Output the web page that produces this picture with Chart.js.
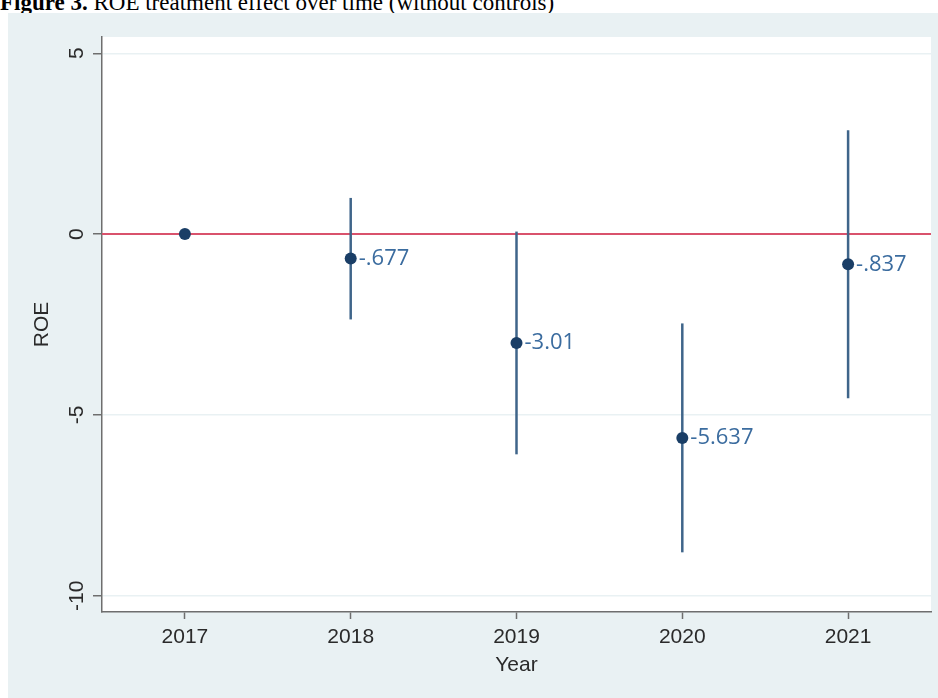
<!DOCTYPE html>
<html>
<head>
<meta charset="utf-8">
<script src="https://cdn.jsdelivr.net/npm/chart.js@4.4.1/dist/chart.umd.min.js"></script>
<style>
  html, body { margin: 0; padding: 0; background: #fff; }
  #wrap { position: relative; width: 938px; height: 698px; overflow: hidden; }
  #caption {
    position: absolute; left: 0; top: -9px; z-index: 0;
    font: 23px/23px "Liberation Serif", "Times New Roman", serif;
    color: #000; white-space: nowrap;
  }
  #roe-chart { position: absolute; left: 0; top: 0; z-index: 1; }
</style>
</head>
<body>
<div id="wrap">
  <div id="caption"><b>Figure 3.</b> ROE treatment effect over time (without controls)</div>
  <canvas id="roe-chart" width="938" height="698"></canvas>
</div>
<script>
// event-study coefficients (2017 = base year)
const years = [2017, 2018, 2019, 2020, 2021];
const coefs = [0, -0.677, -3.01, -5.637, -0.837];
const coefLabels = ['', '-.677', '-3.01', '-5.637', '-.837'];

// confidence intervals
const ciYears = [2018, 2019, 2020, 2021];
const ciLow = [-2.36, -6.09, -8.80, -4.54];
const ciHigh = [1.00, 0.07, -2.47, 2.87];

const yTicks = [-10, -5, 0, 5];
const xRange = [2016.5, 2021.5];
const yRange = [-10.45, 5.45];

const BG = '#e9f1f3';
const AXIS = '#6e6e6e';
const TEXT = '#2a2a2a';
const TICK_FONT = { family: '"Liberation Sans", Arial, sans-serif', size: 21 };

// stata-like background: blue-gray graph region, white plot region
const backgroundPlugin = {
    id: 'stataBackground',
    beforeDraw(chart) {
        const { ctx, chartArea: a } = chart;
        ctx.save();
        ctx.fillStyle = BG;
        ctx.fillRect(8, 13, chart.width - 8, chart.height - 13);
        ctx.fillStyle = '#fff';
        ctx.fillRect(a.left, a.top, a.right - a.left, a.bottom - a.top);
        ctx.restore();
    }
};

// vertical y tick labels (Chart.js does not rotate them on a vertical scale)
const yLabelPlugin = {
    id: 'yTickLabels',
    afterDraw(chart) {
        const { ctx } = chart;
        const y = chart.scales.y;
        ctx.save();
        ctx.fillStyle = TEXT;
        ctx.font = `${TICK_FONT.size}px ${TICK_FONT.family}`;
        ctx.textAlign = 'center';
        ctx.textBaseline = 'middle';
        y.ticks.forEach(t => {
            ctx.save();
            ctx.translate(77, y.getPixelForValue(t.value));
            ctx.rotate(-Math.PI / 2);
            ctx.fillText(String(t.value), 0, 0);
            ctx.restore();
        });
        ctx.restore();
    }
};

// coefficient text to the right of each marker
const pointLabelPlugin = {
    id: 'coefLabels',
    afterDatasetsDraw(chart) {
        const { ctx } = chart;
        const meta = chart.getDatasetMeta(0);
        ctx.save();
        ctx.fillStyle = '#3b6c9f';
        ctx.font = '22px "Open Sans", "Noto Sans", sans-serif';
        ctx.textAlign = 'left';
        ctx.textBaseline = 'middle';
        meta.data.forEach((pt, i) => {
            if (coefLabels[i]) ctx.fillText(coefLabels[i], pt.x + 8, pt.y);
        });
        ctx.restore();
    }
};

const datasets = [
    {
        type: 'scatter',
        data: years.map((yr, i) => ({ x: yr, y: coefs[i] })),
        backgroundColor: '#1a3e66',
        borderWidth: 0,
        pointRadius: 6
    }
];

ciYears.forEach((yr, i) => {
    datasets.push({
        type: 'line',
        data: [{ x: yr, y: ciLow[i] }, { x: yr, y: ciHigh[i] }],
        borderColor: '#3f658a',
        borderWidth: 2.5,
        pointRadius: 0
    });
});

// reference line at zero
datasets.push({
    type: 'line',
    data: [{ x: xRange[0], y: 0 }, { x: xRange[1], y: 0 }],
    borderColor: '#d9526c',
    borderWidth: 2,
    pointRadius: 0
});

new Chart(document.getElementById('roe-chart'), {
    data: { datasets },
    options: {
        responsive: false,
        animation: false,
        layout: { padding: { left: 0, top: 37, right: 7, bottom: 0 } },
        plugins: { legend: { display: false }, tooltip: { enabled: false } },
        scales: {
            x: {
                type: 'linear',
                min: xRange[0],
                max: xRange[1],
                afterBuildTicks: s => { s.ticks = years.map(v => ({ value: v })); },
                afterFit: s => { s.height = 86; },
                ticks: { color: TEXT, font: TICK_FONT, padding: 6, callback: v => String(v) },
                grid: { drawOnChartArea: false, tickLength: 7, tickColor: AXIS, tickWidth: 1.5 },
                border: { color: AXIS, width: 1.5 },
                title: { display: true, text: 'Year', color: TEXT, font: TICK_FONT, padding: { top: 0, bottom: 20 } }
            },
            y: {
                type: 'linear',
                min: yRange[0],
                max: yRange[1],
                afterBuildTicks: s => { s.ticks = yTicks.map(v => ({ value: v })); },
                afterFit: s => { s.width = 102; },
                ticks: { display: false },
                grid: { color: BG, lineWidth: 1.5, tickLength: 9, tickColor: AXIS, tickWidth: 1.5 },
                border: { color: AXIS, width: 1.5 },
                title: { display: true, text: 'ROE', color: TEXT, font: TICK_FONT, padding: { top: 30, bottom: 0 } }
            }
        }
    },
    plugins: [backgroundPlugin, yLabelPlugin, pointLabelPlugin]
});
</script>
</body>
</html>
